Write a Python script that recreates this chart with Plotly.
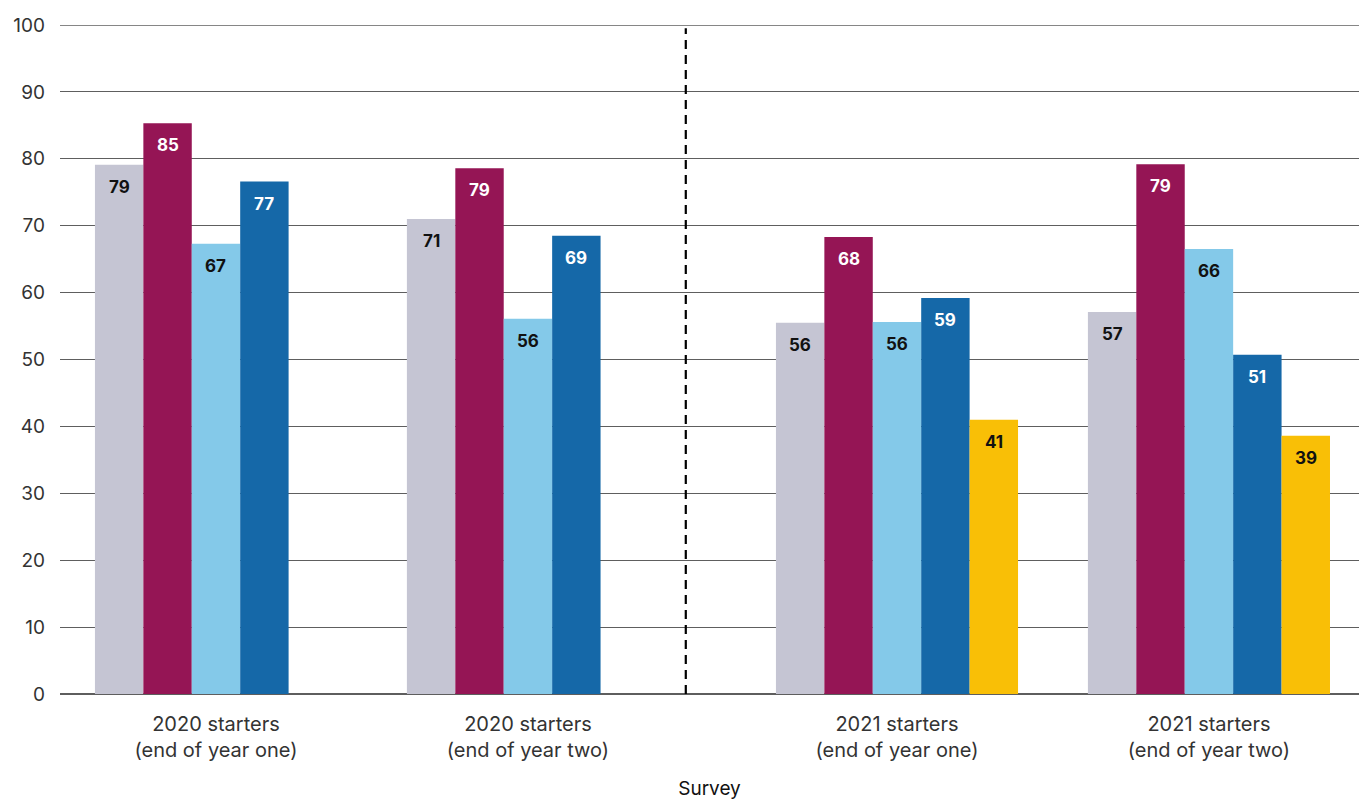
import plotly.graph_objects as go

categories = ["2020 starters<br>(end of year one)", "2020 starters<br>(end of year two)",
              "2021 starters<br>(end of year one)", "2021 starters<br>(end of year two)"]
cat_positions = [0, 1, 2.183, 3.183]
divider_position = 1.506

series_values = [
    [79.1, 71.0, 55.5, 57.1],
    [85.3, 78.6, 68.3, 79.2],
    [67.3, 56.1, 55.6, 66.5],
    [76.6, 68.5, 59.2, 50.7],
    [None, None, 41.0, 38.6],
]
series_labels = [
    [79, 71, 56, 57],
    [85, 79, 68, 79],
    [67, 56, 56, 66],
    [77, 69, 59, 51],
    [None, None, 41, 39],
]
colors = ["#c5c5d3", "#951555", "#84c9e9", "#1568a8", "#f9bf06"]
label_colors = ["#111111", "#ffffff", "#111111", "#ffffff", "#111111"]

FONT = "Inter, Liberation Sans, Arial, sans-serif"
bargap = 0.224
n = len(series_values)
w = (1 - bargap) / n

fig = go.Figure()
annotations = []
for i, (vals, labs) in enumerate(zip(series_values, series_labels)):
    fig.add_trace(go.Bar(x=cat_positions, y=vals, marker=dict(color=colors[i], line=dict(width=0)),
                         showlegend=False, hoverinfo="y"))
    for xp, v, lab in zip(cat_positions, vals, labs):
        if v is None:
            continue
        annotations.append(dict(x=xp + (i - (n - 1) / 2) * w, y=v, xref="x", yref="y",
                                text=f"<b>{lab}</b>", showarrow=False, yshift=-22,
                                font=dict(family=FONT, size=17, color=label_colors[i])))

fig.add_shape(type="line", xref="paper", yref="y", x0=0, x1=1, y0=100, y1=100,
              line=dict(color="#5e5e5e", width=1.3), layer="below")
fig.add_shape(type="line", xref="x", yref="paper", x0=divider_position, x1=divider_position,
              y0=0, y1=0.995, line=dict(color="#000000", width=2.2, dash="9px,6px"))

fig.update_layout(
    barmode="group", bargap=bargap, bargroupgap=0,
    width=1359, height=801,
    margin=dict(l=60, r=0, t=25, b=107),
    plot_bgcolor="white", paper_bgcolor="white",
    font=dict(family=FONT, size=16, color="#333333"),
    annotations=annotations,
    xaxis=dict(range=[-0.5, 3.664], tickvals=cat_positions, ticktext=categories,
               showgrid=False, zeroline=False, showline=False, ticks="",
               tickfont=dict(size=20, color="#333333"), ticklabelstandoff=16,
               title=dict(text="Survey", font=dict(size=19, color="#111111"), standoff=20)),
    yaxis=dict(range=[0, 100], dtick=10, showgrid=True, gridcolor="#5e5e5e", gridwidth=1.3,
               zeroline=True, zerolinecolor="#5e5e5e", zerolinewidth=1.6,
               showline=False, ticks="", ticklabelstandoff=14,
               tickfont=dict(size=19, color="#333333")),
)

fig.write_html("out.html")
